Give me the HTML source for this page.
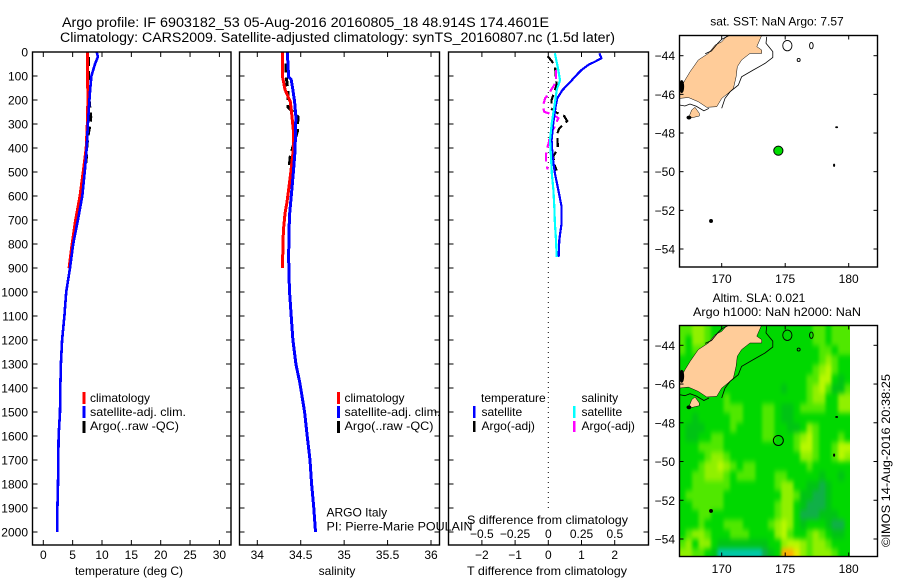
<!DOCTYPE html>
<html>
<head>
<meta charset="utf-8">
<title>Argo profile</title>
<style>
html,body{margin:0;padding:0;background:#fff;}
svg{display:block;}
text{font-family:"Liberation Sans",sans-serif;font-size:12px;fill:#000;}
.title{font-size:13.5px;}
.frame{fill:none;stroke:#000;stroke-width:1.4;}
</style>
</head>
<body>
<svg id="chart" xmlns="http://www.w3.org/2000/svg" width="900" height="580" viewBox="0 0 900 580">
<defs>
<clipPath id="heat-clip"><rect x="679.5" y="325.5" width="170.5" height="231"/></clipPath>
<clipPath id="map1-clip"><rect x="679.5" y="35.5" width="198" height="231.5"/></clipPath>
<clipPath id="map2-clip"><rect x="679.5" y="325.5" width="198" height="231"/></clipPath>
<filter id="heat-soften" filterUnits="userSpaceOnUse" x="640" y="290" width="250" height="300" color-interpolation-filters="sRGB"><feGaussianBlur stdDeviation="1.6 2.6"/></filter>
</defs>
<rect x="0" y="0" width="900" height="580" fill="#fff"/>
<text class="title" x="62" y="27" textLength="487" lengthAdjust="spacingAndGlyphs">Argo profile: IF 6903182_53 05-Aug-2016 20160805_18 48.914S 174.4601E</text>
<text class="title" x="60" y="42" textLength="555" lengthAdjust="spacingAndGlyphs">Climatology: CARS2009. Satellite-adjusted climatology: synTS_20160807.nc (1.5d later)</text>

<g id="p1"></g>
<g id="p2"></g>
<g id="p3"></g>
<g id="m1"></g>
<g id="m2"></g>

<rect x="32.5" y="52" width="198.5" height="493" class="frame"/>
<rect x="239.5" y="52" width="200" height="493" class="frame"/>
<rect x="448.5" y="52" width="200" height="493" class="frame"/>
<rect x="679.5" y="35.5" width="198" height="231.5" class="frame"/>
<rect x="679.5" y="325.5" width="198" height="231" class="frame"/>

<g>
<rect x="82.5" y="392" width="3" height="12" fill="#ff0000"/>
<rect x="82.5" y="406" width="3" height="12" fill="#0000ff"/>
<rect x="82.5" y="421" width="3" height="12" fill="#000"/>
<text x="90" y="402">climatology</text>
<text x="90" y="416" textLength="96" lengthAdjust="spacingAndGlyphs">satellite-adj. clim.</text>
<text x="90" y="430" textLength="89" lengthAdjust="spacingAndGlyphs">Argo(..raw -QC)</text>
</g>
<g>
<rect x="337" y="392" width="3" height="12" fill="#ff0000"/>
<rect x="337" y="406" width="3" height="12" fill="#0000ff"/>
<rect x="337" y="421" width="3" height="12" fill="#000"/>
<text x="344.5" y="402">climatology</text>
<text x="344.5" y="416" textLength="96" lengthAdjust="spacingAndGlyphs">satellite-adj. clim.</text>
<text x="344.5" y="430" textLength="89" lengthAdjust="spacingAndGlyphs">Argo(..raw -QC)</text>
</g>
<g>
<text x="481" y="402">temperature</text>
<text x="581.5" y="402">salinity</text>
<rect x="473" y="406" width="2.5" height="12" fill="#0000ff"/>
<rect x="473" y="421" width="2.5" height="11" fill="#000"/>
<rect x="573" y="406" width="2.5" height="12" fill="#00ffff"/>
<rect x="573" y="421" width="2.5" height="11" fill="#ff00ff"/>
<text x="481.5" y="416">satellite</text>
<text x="481.5" y="430">Argo(-adj)</text>
<text x="581.5" y="416">satellite</text>
<text x="581.5" y="430">Argo(-adj)</text>
</g>

<text x="326.5" y="516.5">ARGO Italy</text>
<text x="326.5" y="530.5" textLength="146" lengthAdjust="spacingAndGlyphs">PI: Pierre-Marie POULAIN</text>

<text x="129" y="575" text-anchor="middle">temperature (deg C)</text>
<text x="337" y="575" text-anchor="middle">salinity</text>
<text x="467" y="575" textLength="160" lengthAdjust="spacingAndGlyphs">T difference from climatology</text>
<text x="467" y="524" textLength="161" lengthAdjust="spacingAndGlyphs">S difference from climatology</text>

<text x="777" y="25.5" text-anchor="middle">sat. SST: NaN Argo: 7.57</text>
<text x="759" y="302" text-anchor="middle">Altim. SLA: 0.021</text>
<text x="777" y="316" text-anchor="middle" textLength="168" lengthAdjust="spacingAndGlyphs">Argo h1000: NaN h2000: NaN</text>
<text transform="translate(890,547) rotate(-90)" textLength="173" lengthAdjust="spacingAndGlyphs">©IMOS 14-Aug-2016 20:38:25</text>
</svg>

<script>
// ---- axis tick labels ----
const depthTicks = [0,100,200,300,400,500,600,700,800,900,1000,1100,1200,1300,1400,1500,1600,1700,1800,1900,2000];
const tempTicks = [0,5,10,15,20,25,30];
const salTicks = [34,34.5,35,35.5,36];
const diffTTicks = [-2,-1,0,1,2];
const diffSTicks = [-0.5,-0.25,0,0.25,0.5];
const diffSLabels = ['\u22120.5','\u22120.25','0','0.25','0.5'];
const lonTicks = [170,175,180];
const latTicks = [-44,-46,-48,-50,-52,-54];

// ---- temperature series ----
const climTDepth = [0,200,300,400,500,600,700,800,900];
const climTValues = [7.5,7.6,7.5,7.3,6.8,6.25,5.5,4.9,4.4];
const satTDepth = [0,20,50,100,150,200,300,400,500,600,700,800,900,1000,1100,1200,1300,1400,1500,1600,1700,1800,1900,2000];
const satTValues = [9.1,9.3,8.8,8.2,8.0,7.85,7.6,7.4,7.05,6.65,5.9,5.1,4.55,3.9,3.6,3.2,3.0,2.9,2.85,2.6,2.55,2.5,2.4,2.35];
const argoTDepth = [20,130,200,270,310,350,400,450,500];
const argoTValues = [7.7,7.7,7.8,8.1,7.9,7.6,7.4,7.3,7.0];

// ---- salinity series ----
const climSDepth = [0,103,158,207,270,325,408,505,575,630,670,742,811,900];
const climSValues = [34.29,34.29,34.32,34.38,34.40,34.415,34.415,34.385,34.36,34.34,34.32,34.30,34.295,34.29];
const satSDepth = [0,103,115,158,207,270,325,408,505,602,685,770,853,990,1100,1200,1300,1380,1500,1600,1700,1800,1900,2000];
const satSValues = [34.345,34.36,34.39,34.41,34.43,34.445,34.44,34.435,34.415,34.39,34.37,34.365,34.36,34.37,34.39,34.41,34.445,34.49,34.545,34.575,34.607,34.625,34.65,34.67];
const argoSDepth = [47,108,171,230,250,270,293,325,408,443,490];
const argoSValues = [34.33,34.335,34.355,34.355,34.41,34.47,34.465,34.465,34.40,34.375,34.37];

// ---- difference series ----
const diffSatTDepth = [5,26,40,54,75,103,124,158,192,228,296,367,436,505,575,644,713,783,855];
const diffSatTValues = [1.54,1.6,1.41,1.2,1.0,0.8,0.67,0.43,0.27,0.22,0.15,0.10,0.13,0.2,0.3,0.4,0.4,0.33,0.31];
const diffSatSDepth = [5,75,117,158,228,296,367,436,505,575,644,713,783,855];
const diffSatSValues = [0.05,0.075,0.088,0.063,0.045,0.026,0.013,0.02,0.026,0.038,0.045,0.05,0.058,0.063];
const diffArgoTDepth = [17,54,137,172,200,235,253,267,288,318,339,374,399,436,467,494];
const diffArgoTValues = [-0.02,0.2,0.25,0.17,0.1,0.08,0.25,0.48,0.57,0.33,0.27,0.28,0.29,0.15,0.18,0.25];
const diffArgoSDepth = [75,114,137,172,193,228,249,263,276,314,353,374,394,429,453,489];
const diffArgoSValues = [0.057,0.057,0.045,0.005,-0.023,-0.043,-0.03,0.038,0.075,0.045,0.005,0.005,-0.005,-0.018,-0.018,-0.005];

// ---- map geography ----
const southIslandLon = [170.45,173.15,172.76,173.15,173.15,172.23,171.57,171.23,171.13,170.92,170.66,170,169.61,168.82,168.16,167.38,166.67,166.67,167.11,167.51,168.16,168.95,169.48,170];
const southIslandLat = [-42.95,-42.95,-43.53,-43.71,-43.88,-43.88,-44.22,-44.57,-45.09,-45.69,-45.86,-46.21,-46.64,-46.67,-46.38,-46.16,-46.21,-45.78,-45.26,-44.83,-44.22,-43.88,-43.45,-43.28];
const stewartLon = [167.38,167.64,167.9,168.24,168.24,167.77];
const stewartLat = [-47.24,-46.81,-46.67,-46.98,-47.12,-47.19];
const shelfLon = [173.54,173.49,174.02,174.02,173.41,172.49,171.57,171.31,170.66,170.26,170];
const shelfLat = [-43.02,-43.36,-43.79,-44.09,-44.4,-44.74,-45.09,-45.52,-45.86,-46.21,-46.72];
const westShelfLon = [168.7,169.2,169.7,170.0,170.6];
const westShelfLat = [-43.9,-43.75,-43.35,-43.15,-42.95];
const southShelfLon = [166.67,167.1,167.5,168.0,168.6,169.0];
const southShelfLat = [-46.55,-46.6,-46.5,-46.62,-46.85,-46.72];
const isletLon = [175.17,177.06,176.06,169.16,179.05,178.85,166.85,167.42];
const isletLat = [-43.48,-43.48,-44.22,-52.55,-47.7,-49.67,-45.6,-47.2];
const isletRx = [4.6,1.8,1.5,1.5,1,0.6,2,2];
const isletRy = [5.2,3.2,1.5,1.5,0.5,1.2,6,1.5];
const isletFilled = [0,0,0,1,1,1,1,1];
const floatLon = [174.46];
const floatLat = [-48.914];

// ---- altimetry SLA grid, 0.5 deg cells, level index per cell ----
const heatStartLon = 166.66;
const heatStartLat = -43;
const heatStep = 0.5;
const heatLevels = ['#00c8a8','#10b048','#00c414','#00d800','#50e800','#90f000','#b8f800','#e8e800','#ffb000'];
const heatRows = [
[4,4,5,5,4,3,3,3,3,3,3,3,3,3,3,3,3,3,3,3,3,4,4,3,4,4,4],
[4,3,5,5,4,3,3,3,3,3,3,3,3,3,3,3,3,3,3,3,3,4,4,3,4,4,4],
[4,3,4,4,3,3,3,3,3,3,3,3,3,3,3,3,3,3,3,3,3,3,4,4,3,4,4],
[3,3,3,3,3,3,3,3,3,3,3,3,3,3,3,3,3,3,3,3,3,3,4,5,4,3,3],
[3,3,3,3,3,3,3,3,3,3,3,3,3,3,3,3,3,3,3,3,3,4,5,6,4,3,3],
[3,3,3,3,3,3,3,3,3,3,3,3,3,3,3,3,3,3,3,3,4,4,6,6,3,2,3],
[3,3,3,3,3,3,3,3,3,3,3,3,3,3,3,3,2,3,3,3,4,5,6,4,2,2,4],
[3,3,3,3,3,3,3,4,3,3,3,3,3,3,3,3,3,3,3,3,4,5,5,3,3,5,5],
[3,3,3,3,3,3,3,4,4,4,3,3,3,4,4,3,2,2,3,4,4,4,4,3,3,5,5],
[3,3,2,3,3,3,3,3,4,4,3,3,3,4,4,3,2,2,3,3,3,3,3,3,3,3,3],
[3,2,2,2,3,3,3,3,4,3,3,3,3,4,4,3,3,2,2,3,5,4,3,3,3,3,3],
[3,2,2,3,3,4,4,3,3,3,3,3,3,4,4,3,3,3,4,5,6,4,3,3,3,4,3],
[3,3,3,4,4,4,4,3,3,3,3,3,3,3,3,3,3,3,4,6,6,4,3,3,4,6,6],
[3,3,3,3,4,5,5,4,3,3,3,3,3,3,3,3,3,3,3,5,5,4,3,3,4,6,5],
[3,3,3,4,5,5,6,5,4,3,4,4,3,3,3,3,3,3,3,3,4,3,3,3,3,3,3],
[3,3,4,4,5,5,5,4,3,4,4,4,3,3,3,4,4,3,3,3,3,3,2,3,3,2,3],
[3,3,4,4,4,4,4,4,3,3,3,3,3,3,3,4,5,5,3,3,2,2,1,2,3,3,3],
[3,4,4,4,4,4,4,3,3,3,3,3,3,3,3,3,5,5,4,2,2,1,1,2,3,3,3],
[3,3,4,4,4,4,4,3,3,3,3,3,3,3,3,4,5,5,3,2,1,1,1,2,3,3,3],
[3,3,3,4,4,3,3,3,3,3,3,3,3,3,3,4,5,5,3,1,1,1,2,2,2,3,3],
[3,3,3,4,3,3,3,4,4,4,3,3,3,3,4,5,6,5,3,2,3,3,3,2,1,1,3],
[3,4,5,5,4,3,3,3,4,4,4,3,3,3,3,5,6,4,3,3,4,5,4,3,2,2,3],
[4,5,3,5,5,3,2,2,2,2,2,2,2,2,3,3,5,6,6,5,4,5,5,4,3,3,3],
[5,5,4,4,3,2,0,0,0,0,0,0,0,1,2,3,8,8,7,5,4,5,5,5,4,3,3]
];

// ---- axis functions ----
const yDepth = d => 52 + d * 0.24;
const xTemp = t => 43.3 + t * 5.87;
const xSal = s => 257.3 + (s - 34) * 86.85;
const xDiffT = t => 548.3 + t * 33.2;
const xDiffS = s => 548.3 + s * 133;
const xLon = lon => 721.7 + (lon - 170) * 12.7;
const yLat1 = lat => 55.7 + (-44 - lat) * 19.33;
const yLat2 = lat => 345.3 + (-44 - lat) * 19.37;

const NS = 'http://www.w3.org/2000/svg';
function make(parent, tag, props, txt) {
  const el = document.createElementNS(NS, tag);
  for (const k in props) el.setAttribute(k, props[k]);
  if (txt !== undefined) el.textContent = txt;
  parent.appendChild(el);
  return el;
}
function tick(parent, x1, y1, x2, y2) {
  const el = make(parent, 'line', {x1:x1, y1:y1, x2:x2, y2:y2, stroke:'#000', 'stroke-width':1});
  
  
}
function label(parent, x, y, anchor, s) {
  const el = make(parent, 'text', {x:x, y:y, 'text-anchor':anchor}, s);
  
  
}
function profile(parent, vals, depths, xf, color, width, dash, name) {
  const pts = vals.map((v, i) => xf(v).toFixed(1) + ',' + yDepth(depths[i]).toFixed(1)).join(' ');
  const el = make(parent, 'polyline', {points:pts, fill:'none', stroke:color, 'stroke-width':width, 'stroke-dasharray':dash || 'none', 'shape-rendering':'crispEdges'});
  
  
}
function panelAxes(parent, left, right, xs) {
  depthTicks.forEach(d => {
    tick(parent, left, yDepth(d), left + 5, yDepth(d));
    tick(parent, right - 5, yDepth(d), right, yDepth(d));
  });
  xs.forEach(x => {
    tick(parent, x, 52, x, 57);
    tick(parent, x, 540, x, 545);
  });
}

const p1 = document.getElementById('p1');
const p2 = document.getElementById('p2');
const p3 = document.getElementById('p3');

// temperature panel
panelAxes(p1, 32.5, 231, tempTicks.map(xTemp));
depthTicks.forEach(d => label(p1, 28, yDepth(d) + 4.5, 'end', String(d)));
tempTicks.forEach(t => label(p1, xTemp(t), 559, 'middle', String(t)));
profile(p1, argoTValues, argoTDepth, xTemp, '#000', 3, '9 5', 'argo-temperature-line');
profile(p1, climTValues, climTDepth, xTemp, '#ff0000', 3, null, 'climatology-temperature-line');
profile(p1, satTValues, satTDepth, xTemp, '#0000ff', 2.6, null, 'satellite-temperature-line');

// salinity panel
panelAxes(p2, 239.5, 439.5, salTicks.map(xSal));
salTicks.forEach(s => label(p2, xSal(s), 559, 'middle', String(s)));
profile(p2, argoSValues, argoSDepth, xSal, '#000', 3, '9 5', 'argo-salinity-line');
profile(p2, climSValues, climSDepth, xSal, '#ff0000', 3, null, 'climatology-salinity-line');
profile(p2, satSValues, satSDepth, xSal, '#0000ff', 3, null, 'satellite-salinity-line');

// difference panel
panelAxes(p3, 448.5, 648.5, diffTTicks.map(xDiffT));
diffTTicks.forEach(t => label(p3, xDiffT(t), 559, 'middle', String(t).replace('-', '\u2212')));
diffSTicks.forEach((s, i) => label(p3, xDiffS(s), 538, 'middle', diffSLabels[i]));
const zeroLine = make(p3, 'line', {x1:xDiffT(0), y1:52, x2:xDiffT(0), y2:510, stroke:'#000', 'stroke-width':1, 'stroke-dasharray':'1 4'});


profile(p3, diffArgoTValues, diffArgoTDepth, xDiffT, '#000', 2.2, '9 5', 'argo-t-difference-line');
profile(p3, diffArgoSValues, diffArgoSDepth, xDiffS, '#ff00ff', 2.2, '9 5', 'argo-s-difference-line');
profile(p3, diffSatTValues, diffSatTDepth, xDiffT, '#0000ff', 2.2, null, 'satellite-t-difference-line');
profile(p3, diffSatSValues, diffSatSDepth, xDiffS, '#00ffff', 2.2, null, 'satellite-s-difference-line');

// maps
function geoLine(parent, lons, lats, yf, name, closed, fill) {
  const pts = lons.map((v, i) => xLon(v).toFixed(1) + ',' + yf(lats[i]).toFixed(1)).join(' ');
  const el = make(parent, closed ? 'polygon' : 'polyline', {points:pts, fill:fill, stroke:'#000', 'stroke-width':closed ? 0.5 : 0.8});
  
  
}
function drawMap(parent, yf, top, bottom, labelY, clipId) {
  const geo = make(parent, 'g', {'clip-path':'url(#' + clipId + ')'});
  
  
  geoLine(geo, southIslandLon, southIslandLat, yf, 'south-island-land', true, '#ffcc99');
  geoLine(geo, stewartLon, stewartLat, yf, 'stewart-island-land', true, '#ffcc99');
  geoLine(geo, shelfLon, shelfLat, yf, 'east-shelf-contour', false, 'none');
  geoLine(geo, westShelfLon, westShelfLat, yf, 'west-shelf-contour', false, 'none');
  geoLine(geo, southShelfLon, southShelfLat, yf, 'south-shelf-contour', false, 'none');
  isletLon.forEach((lon, i) => {
    const el = make(geo, 'ellipse', {cx:xLon(lon), cy:yf(isletLat[i]), rx:isletRx[i], ry:isletRy[i], fill:isletFilled[i] ? '#000' : 'none', stroke:'#000', 'stroke-width':0.9});
    
    
  });
  lonTicks.forEach(lon => {
    tick(parent, xLon(lon), top, xLon(lon), top + 4);
    tick(parent, xLon(lon), bottom - 4, xLon(lon), bottom);
    label(parent, xLon(lon), labelY, 'middle', String(lon));
  });
  latTicks.forEach(lat => {
    tick(parent, 679.5, yf(lat), 683.5, yf(lat));
    tick(parent, 873.5, yf(lat), 877.5, yf(lat));
    label(parent, 675, yf(lat) + 4.5, 'end', '\u2212' + Math.abs(lat));
  });
}

const m1 = document.getElementById('m1');
const m2 = document.getElementById('m2');

drawMap(m1, yLat1, 35.5, 267, 283, 'map1-clip');
floatLon.forEach((lon, i) => {
  const dot = make(m1, 'circle', {cx:xLon(lon), cy:yLat1(floatLat[i]), r:4.6, fill:'#00dd00', stroke:'#000', 'stroke-width':1});
  
  
});

// heat cells: outermost rows/cols are extended so the softening has no pale edge; the clip trims them
const heatClip = make(m2, 'g', {'clip-path':'url(#heat-clip)'});


const heatGroup = make(heatClip, 'g', {filter:'url(#heat-soften)'});


heatRows.forEach((row, r) => {
  row.forEach((v, c) => {
    const lon0 = heatStartLon + c * heatStep;
    const lat0 = heatStartLat - r * heatStep;
    let x0 = xLon(lon0);
    let x1 = xLon(lon0 + heatStep);
    let y0 = yLat2(lat0);
    let y1 = yLat2(lat0 - heatStep);
    if (c === 0) x0 -= 20;
    if (c === row.length - 1) x1 += 20;
    if (r === 0) y0 -= 20;
    if (r === heatRows.length - 1) y1 += 20;
    const cell = make(heatGroup, 'rect', {x:x0.toFixed(2), y:y0.toFixed(2), width:(x1 - x0 + 0.4).toFixed(2), height:(y1 - y0 + 0.4).toFixed(2), fill:heatLevels[v], 'shape-rendering':'crispEdges'});
    
    
  });
});
drawMap(m2, yLat2, 325.5, 556.5, 573, 'map2-clip');
floatLon.forEach((lon, i) => {
  const ring = make(m2, 'circle', {cx:xLon(lon), cy:yLat2(floatLat[i]), r:5, fill:'none', stroke:'#000', 'stroke-width':1});
  
  
});
</script>
</body>
</html>
